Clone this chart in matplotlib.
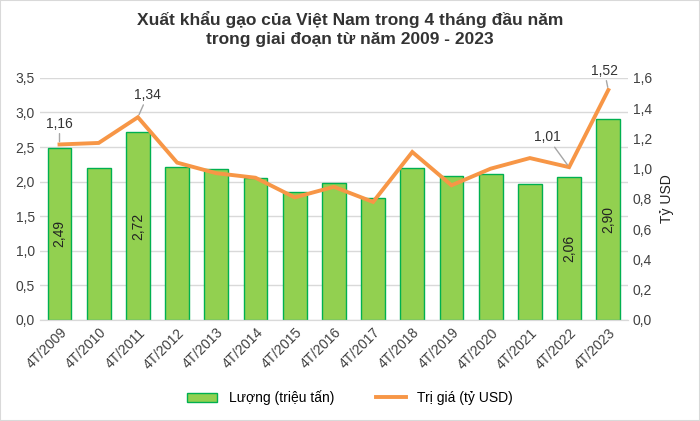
import matplotlib
matplotlib.use('Agg')
import matplotlib.pyplot as plt
from matplotlib.ticker import FuncFormatter, MultipleLocator
from matplotlib.patches import Rectangle

plt.rcParams['font.family'] = ['Liberation Sans', 'DejaVu Sans']

# Data
years = ['4T/2009', '4T/2010', '4T/2011', '4T/2012', '4T/2013', '4T/2014', '4T/2015',
         '4T/2016', '4T/2017', '4T/2018', '4T/2019', '4T/2020', '4T/2021', '4T/2022', '4T/2023']
luong = [2.49, 2.20, 2.72, 2.21, 2.18, 2.05, 1.85, 1.98, 1.77, 2.20, 2.08, 2.11, 1.96, 2.06, 2.90]
tri_gia = [1.16, 1.17, 1.34, 1.04, 0.97, 0.94, 0.81, 0.88, 0.78, 1.11, 0.89, 1.00, 1.07, 1.01, 1.52]
bar_label_idx = [0, 2, 13, 14]
line_label_idx = [0, 2, 13, 14]

comma = FuncFormatter(lambda v, p: f'{v:.1f}'.replace('.', ','))

fig = plt.figure(figsize=(7, 4.21), dpi=100)
fig.patches.append(Rectangle((0, 0), 1, 1, transform=fig.transFigure, fill=False,
                             edgecolor='#d9d9d9', linewidth=1.5))
ax = fig.add_axes([0.057, 0.24, 0.84, 0.575])
ax2 = ax.twinx()

x = list(range(len(years)))
ax.bar(x, luong, width=0.61, color='#92D050', edgecolor='#00B050', linewidth=1,
       label='Lượng (triệu tấn)', zorder=2)
ax2.plot(x, tri_gia, color='#F79646', linewidth=2.8, label='Trị giá (tỷ USD)',
         solid_joinstyle='miter', zorder=3)

for i in bar_label_idx:
    ax.text(i, luong[i] / 2, f'{luong[i]:.2f}'.replace('.', ','), rotation=90,
            ha='center', va='center', fontsize=10, color='#222222', zorder=4)

# label offsets (x in bars, y in right-axis units)
offsets = {0: (0.0, 0.09), 2: (0.25, 0.1), 13: (-0.55, 0.15), 14: (-0.1, 0.08)}
for i in line_label_idx:
    dx, dy = offsets[i]
    ax2.annotate(f'{tri_gia[i]:.2f}'.replace('.', ','), xy=(i, tri_gia[i]),
                 xytext=(i + dx, tri_gia[i] + dy), ha='center', va='bottom',
                 fontsize=10, color='#333333',
                 arrowprops=dict(arrowstyle='-', color='#a6a6a6', lw=1, shrinkA=0, shrinkB=2))

ax.set_ylim(0, 3.5)
ax.yaxis.set_major_locator(MultipleLocator(0.5))
ax.yaxis.set_major_formatter(comma)
ax2.set_ylim(0, 1.6)
ax2.yaxis.set_major_locator(MultipleLocator(0.2))
ax2.yaxis.set_major_formatter(comma)
ax.set_xlim(-0.5, len(years) - 0.5)
ax.set_xticks(x)
ax.set_xticklabels(years, rotation=45, ha='right', rotation_mode='anchor', fontsize=9.5, color='#404040')
ax.grid(axis='y', color='#d9d9d9', linewidth=1, zorder=0)
ax.set_axisbelow(True)
for a in (ax, ax2):
    for s in ('top', 'left', 'right'):
        a.spines[s].set_visible(False)
    a.spines['bottom'].set_color('#d9d9d9')
    a.tick_params(length=0, labelsize=10, colors='#404040')
ax.tick_params(axis='x', pad=4)
ax2.set_ylabel('Tỷ USD', fontsize=10, color='#222222', labelpad=6)

fig.suptitle('Xuất khẩu gạo của Việt Nam trong 4 tháng đầu năm\ntrong giai đoạn từ năm 2009 - 2023',
             y=0.975, fontsize=12.5, fontweight='bold', color='#333333', linespacing=1.4)

h1, l1 = ax.get_legend_handles_labels()
h2, l2 = ax2.get_legend_handles_labels()
fig.legend(h1 + h2, l1 + l2, loc='center', bbox_to_anchor=(0.5, 0.055), ncol=2,
           frameon=False, fontsize=10, handlelength=2.2, columnspacing=3)

fig.savefig('out.png', dpi=100)
